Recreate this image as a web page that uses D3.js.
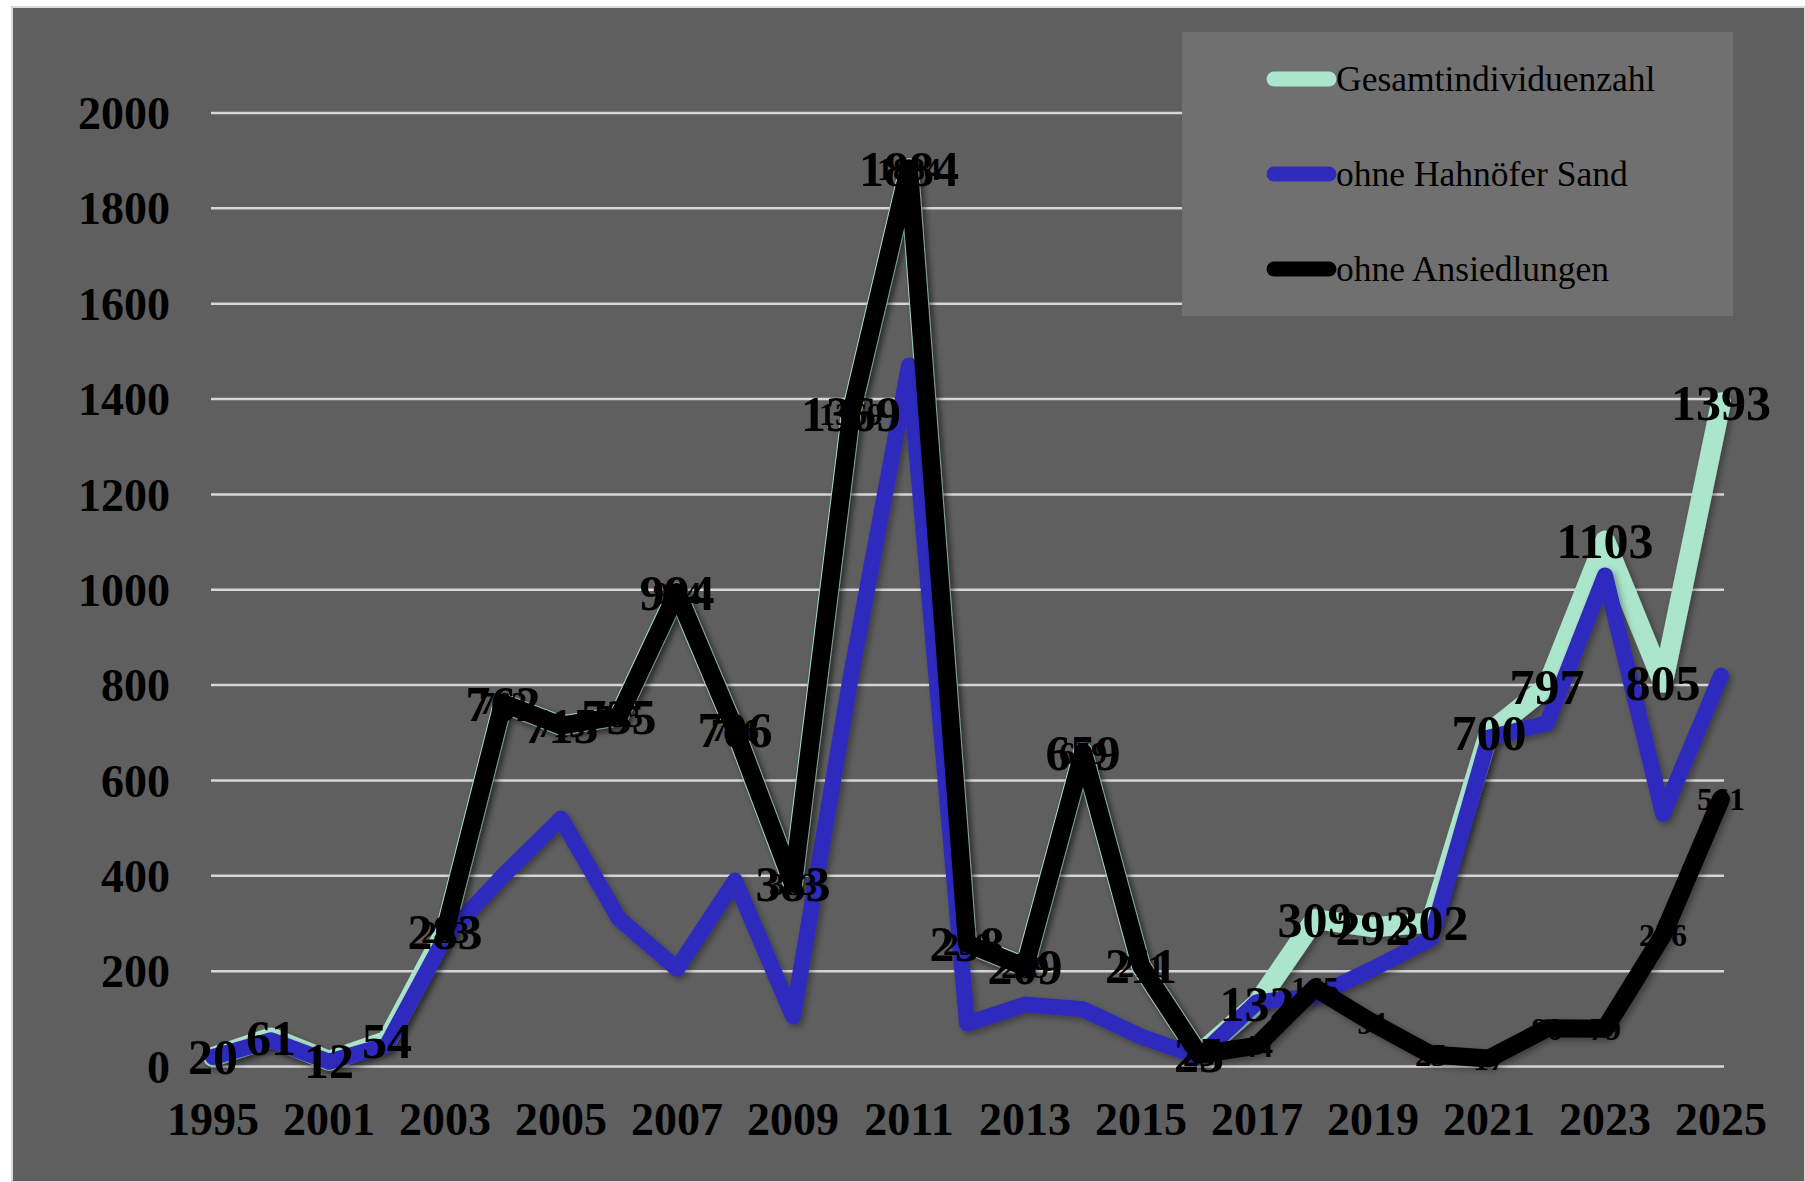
<!DOCTYPE html>
<html>
<head>
<meta charset="utf-8">
<script src="https://cdn.jsdelivr.net/npm/d3@7"></script>
<style>
  body { margin: 0; background: #fff; }
  svg { display: block; font-family: "Liberation Serif", "Times New Roman", serif; }
</style>
</head>
<body>
<svg id="chart" width="1805" height="1182"></svg>
<script>
const years = ["1995", "2000", "2001", "2002", "2003", "2004", "2005", "2006", "2007", "2008", "2009",
  "2010", "2011", "2012", "2013", "2014", "2015", "2016", "2017", "2018", "2019", "2020",
  "2021", "2022", "2023", "2024", "2025"];

const gesamt = [20, 61, 12, 54, 283, 762, 715, 735, 994, 706, 383, 1369, 1884, 258, 209, 659, 211,
  25, 132, 309, 292, 302, 700, 797, 1103, 805, 1393];

const ohneHahnoefer = [20, 55, 10, 45, 270, 400, 520, 310, 205, 390, 105, 820, 1470, 90, 130, 120, 63,
  20, 135, 147, 205, 268, 690, 720, 1030, 530, 820];

const ohneAnsiedlungen = [null, null, null, null, 283, 762, 715, 735, 994, 706, 383, 1369, 1884, 258,
  209, 659, 211, 25, 44, 165, 91, 25, 17, 80, 79, 276, 561];

const yTicks = [0, 200, 400, 600, 800, 1000, 1200, 1400, 1600, 1800, 2000];

const seriesNames = ["Gesamtindividuenzahl", "ohne Hahnöfer Sand", "ohne Ansiedlungen"];

const series = [
  { name: seriesNames[0], values: gesamt, color: "#abe5cb", width: 20, labelSize: 50 },
  { name: seriesNames[1], values: ohneHahnoefer, color: "#2f2bbd", width: 16, labelSize: 0 },
  { name: seriesNames[2], values: ohneAnsiedlungen, color: "#000000", width: 18, labelSize: 32 },
];

const svg = d3.select("#chart");

const defs = svg.append("defs");
const shadow = defs.append("filter").attr("id", "shadow")
  .attr("x", "-10%").attr("y", "-10%").attr("width", "120%").attr("height", "120%");
shadow.append("feDropShadow")
  .attr("dx", 3).attr("dy", 3).attr("stdDeviation", 3)
  .attr("flood-color", "#000").attr("flood-opacity", 0.35);

svg.append("rect")
  .attr("x", 12).attr("y", 7)
  .attr("width", 1805 - 12).attr("height", 1182 - 7)
  .attr("fill", "#5f5f5f")
  .attr("stroke", "#d9d9d9").attr("stroke-width", 2);

const x = d3.scalePoint().domain(years).range([213, 1721]);
const y = d3.scaleLinear().domain([0, 2000]).range([1066.5, 113]);

// gridlines
svg.append("g")
  .selectAll("line")
  .data(yTicks)
  .join("line")
  .attr("x1", 211).attr("x2", 1724)
  .attr("y1", (d) => y(d)).attr("y2", (d) => y(d))
  .attr("stroke", "#d6d6d6").attr("stroke-width", 2.5);

// y axis labels
svg.append("g")
  .selectAll("text")
  .data(yTicks)
  .join("text")
  .attr("x", 170)
  .attr("y", (d) => y(d))
  .attr("dy", "0.35em")
  .attr("text-anchor", "end")
  .attr("font-size", 46)
  .attr("font-weight", "bold")
  .text((d) => d);

// x axis labels, every other category
svg.append("g")
  .selectAll("text")
  .data(years.filter((_d, i) => i % 2 === 0))
  .join("text")
  .attr("x", (d) => x(d))
  .attr("y", 1119)
  .attr("dy", "0.35em")
  .attr("text-anchor", "middle")
  .attr("font-size", 46)
  .attr("font-weight", "bold")
  .text((d) => d);

const line = d3.line()
  .defined((d) => d != null)
  .x((_d, i) => x(years[i]))
  .y((d) => y(d));

svg.append("g")
  .selectAll("path")
  .data(series)
  .join("path")
  .attr("d", (s) => line(s.values))
  .attr("fill", "none")
  .attr("stroke", (s) => s.color)
  .attr("stroke-width", (s) => s.width)
  .attr("stroke-linejoin", "round")
  .attr("stroke-linecap", "round")
  .attr("filter", "url(#shadow)");

// data labels, centred on the points
for (const s of series.filter((d) => d.labelSize > 0)) {
  svg.append("g")
    .selectAll("text")
    .data(s.values.map((v, i) => ({ v, year: years[i] })).filter((d) => d.v != null))
    .join("text")
    .attr("x", (d) => x(d.year))
    .attr("y", (d) => y(d.v))
    .attr("dy", "0.35em")
    .attr("text-anchor", "middle")
    .attr("font-size", s.labelSize)
    .attr("font-weight", "bold")
    .attr("fill", "#000")
    .text((d) => d.v);
}

// legend
const legend = svg.append("g");
legend.append("rect")
  .attr("x", 1182).attr("y", 32)
  .attr("width", 551).attr("height", 284)
  .attr("fill", "#707070");

const legendY = d3.scalePoint().domain(seriesNames).range([79, 269]);

const items = legend.selectAll("g.item")
  .data(series)
  .join("g")
  .attr("class", "item");

items.append("line")
  .attr("x1", 1274).attr("x2", 1329)
  .attr("y1", (s) => legendY(s.name)).attr("y2", (s) => legendY(s.name))
  .attr("stroke", (s) => s.color)
  .attr("stroke-width", 15)
  .attr("stroke-linecap", "round");

items.append("text")
  .attr("x", 1336)
  .attr("y", (s) => legendY(s.name))
  .attr("dy", "0.35em")
  .attr("font-size", 35.5)
  .attr("fill", "#000")
  .text((s) => s.name);
</script>
</body>
</html>
